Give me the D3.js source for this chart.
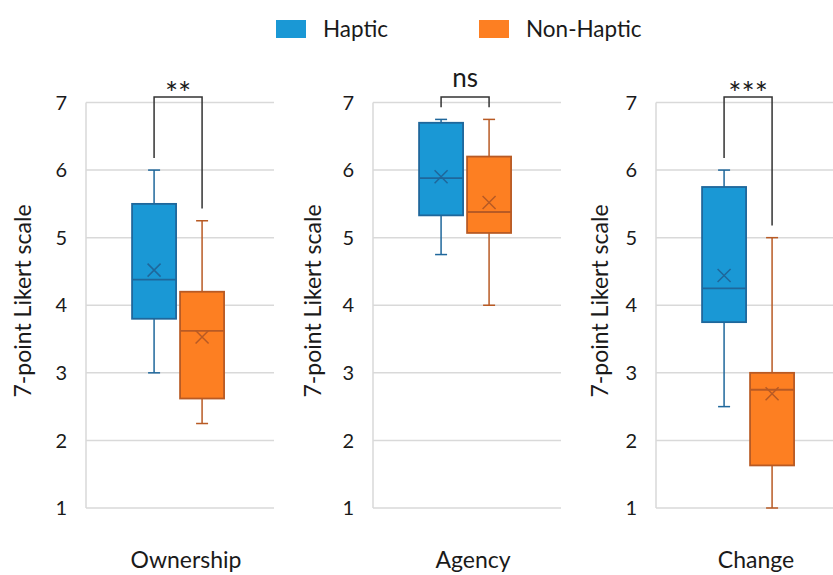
<!DOCTYPE html>
<html>
<head>
<meta charset="utf-8">
<script src="https://cdn.jsdelivr.net/npm/d3@7"></script>
<style>
  body { margin: 0; background: #fff; }
  text { font-family: Lato, "Open Sans", sans-serif; fill: #1a1a1a; }
</style>
</head>
<body>
<svg id="chart" width="833" height="575"></svg>
<script>
// categories and groups
var categories = ["Ownership", "Agency", "Change"];
var groups = ["Haptic", "Non-Haptic"];
var yTicks = [1, 2, 3, 4, 5, 6, 7];
var significance = ["**", "ns", "***"];

// box stats (one value per category)
var hapticMin    = [3.0, 4.75, 2.5];
var hapticQ1     = [3.8, 5.33, 3.75];
var hapticMedian = [4.38, 5.88, 4.25];
var hapticQ3     = [5.5, 6.7, 5.75];
var hapticMax    = [6.0, 6.75, 6.0];
var hapticMean   = [4.52, 5.9, 4.44];

var nonHapticMin    = [2.25, 4.0, 1.0];
var nonHapticQ1     = [2.62, 5.07, 1.63];
var nonHapticMedian = [3.62, 5.38, 2.75];
var nonHapticQ3     = [4.2, 6.2, 3.0];
var nonHapticMax    = [5.25, 6.75, 5.0];
var nonHapticMean   = [3.53, 5.52, 2.69];

var fills   = {"Haptic": "#1a98d5", "Non-Haptic": "#fd7f22"};
var strokes = {"Haptic": "#1f679b", "Non-Haptic": "#b85a24"};

// build per-panel table
var table = categories.map(function(c, i) {
  return {
    key: c,
    sig: significance[i],
    boxes: [
      {group: "Haptic", min: hapticMin[i], q1: hapticQ1[i], med: hapticMedian[i],
       q3: hapticQ3[i], max: hapticMax[i], mean: hapticMean[i]},
      {group: "Non-Haptic", min: nonHapticMin[i], q1: nonHapticQ1[i], med: nonHapticMedian[i],
       q3: nonHapticQ3[i], max: nonHapticMax[i], mean: nonHapticMean[i]}
    ]
  };
});

var svg = d3.select("#chart");
var panelLeft = [86, 373, 656];
var pw = 188;
var gridColor = "#d9d9d9";

var y = d3.scaleLinear().domain([1, 7]).range([508, 102.5]);

var x = d3.scaleBand().domain(groups).range([0, pw])
          .paddingInner(0.0833).paddingOuter(1.0).align(0.48);

// legend
var legend = svg.append("g");
var legendX = [276, 479];
groups.forEach(function(g, i) {
  legend.append("rect")
    .attr("x", legendX[i]).attr("y", 20)
    .attr("width", 30).attr("height", 18)
    .attr("fill", fills[g]);
  legend.append("text")
    .attr("x", legendX[i] + 47).attr("y", 37)
    .attr("font-size", 22.5)
    .text(g);
});

var titleOffset = [55, 52, 48];

table.forEach(function(d, pi) {
  var g = svg.append("g").attr("transform", "translate(" + panelLeft[pi] + ",0)");

  // gridlines
  g.selectAll("line.grid").data(yTicks).enter().append("line")
    .attr("class", "grid")
    .attr("x1", 0).attr("x2", pw)
    .attr("y1", function(t) { return y(t); })
    .attr("y2", function(t) { return y(t); })
    .attr("stroke", gridColor).attr("stroke-width", 1.5);

  // left axis line
  g.append("line")
    .attr("x1", 0).attr("x2", 0)
    .attr("y1", y(7)).attr("y2", y(1))
    .attr("stroke", gridColor).attr("stroke-width", 1.5);

  // tick labels
  g.selectAll("text.tick").data(yTicks).enter().append("text")
    .attr("class", "tick")
    .attr("x", -19)
    .attr("y", function(t) { return y(t); })
    .attr("dy", "0.36em")
    .attr("text-anchor", "end")
    .attr("font-size", 20)
    .text(function(t) { return t; });

  // y-axis title
  g.append("text")
    .attr("text-anchor", "middle")
    .attr("transform", "translate(" + (-titleOffset[pi]) + "," + 301 + ")rotate(-90)")
    .attr("font-size", 23)
    .text("7-point Likert scale");

  // category label
  g.append("text")
    .attr("x", pw / 2 + 6).attr("y", 568)
    .attr("text-anchor", "middle")
    .attr("font-size", 23)
    .text(d.key);

  // boxes
  var bw = x.bandwidth();
  var cap = 12;
  d.boxes.forEach(function(b) {
    var cx = x(b.group) + bw / 2;
    var col = strokes[b.group];
    // whiskers
    g.append("line").attr("x1", cx).attr("x2", cx)
      .attr("y1", y(b.max)).attr("y2", y(b.q3))
      .attr("stroke", col).attr("stroke-width", 1.5);
    g.append("line").attr("x1", cx).attr("x2", cx)
      .attr("y1", y(b.q1)).attr("y2", y(b.min))
      .attr("stroke", col).attr("stroke-width", 1.5);
    [b.max, b.min].forEach(function(v) {
      g.append("line").attr("x1", cx - cap / 2).attr("x2", cx + cap / 2)
        .attr("y1", y(v)).attr("y2", y(v))
        .attr("stroke", col).attr("stroke-width", 1.5);
    });
    // box
    g.append("rect")
      .attr("x", x(b.group)).attr("width", bw)
      .attr("y", y(b.q3)).attr("height", y(b.q1) - y(b.q3))
      .attr("fill", fills[b.group])
      .attr("stroke", col).attr("stroke-width", 1.8);
    // median
    g.append("line").attr("x1", x(b.group)).attr("x2", x(b.group) + bw)
      .attr("y1", y(b.med)).attr("y2", y(b.med))
      .attr("stroke", col).attr("stroke-width", 1.8);
    // mean marker (x)
    var s = 6.5, my = y(b.mean);
    g.append("path")
      .attr("d", "M" + (cx - s) + "," + (my - s) + "L" + (cx + s) + "," + (my + s) +
                 "M" + (cx - s) + "," + (my + s) + "L" + (cx + s) + "," + (my - s))
      .attr("stroke", col).attr("stroke-width", 1.5).attr("fill", "none");
  });

  // significance bracket
  var h = d.boxes[0], n = d.boxes[1];
  var x1 = x(h.group) + bw / 2, x2 = x(n.group) + bw / 2;
  var top = y(7.08);
  g.append("path")
    .attr("d", "M" + x1 + "," + y(h.max + 0.18) + "V" + top + "H" + x2 + "V" + y(n.max + 0.18))
    .attr("fill", "none").attr("stroke", "#333").attr("stroke-width", 1.5);
  g.append("text")
    .attr("x", (x1 + x2) / 2).attr("y", d.sig === "ns" ? 87 : 104)
    .attr("text-anchor", "middle")
    .attr("font-size", d.sig === "ns" ? 26 : 31)
    .text(d.sig);
});
</script>
</body>
</html>
